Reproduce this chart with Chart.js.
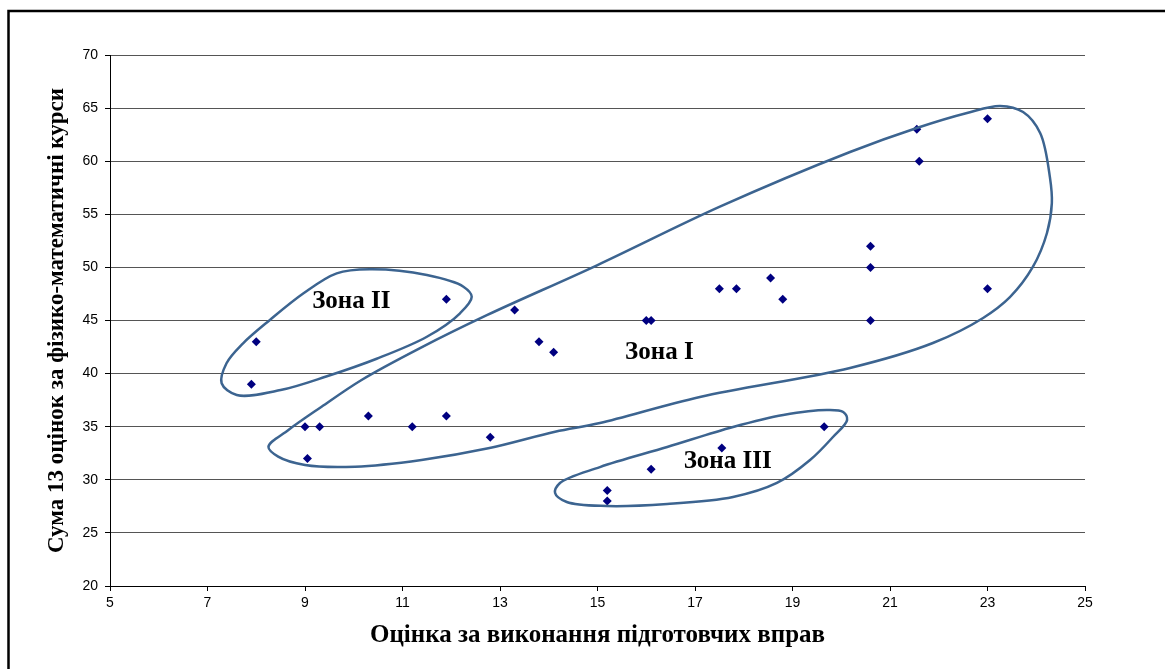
<!DOCTYPE html>
<html lang="uk">
<head>
<meta charset="UTF-8">
<title>Зони</title>
<script src="https://cdn.jsdelivr.net/npm/chart.js"></script>
<style>
    body { margin: 0; background: #fff; }
    canvas { display: block; }
</style>
</head>
<body>
<canvas id="myChart" width="1165" height="669"></canvas>
<script>
    // оцінка за підготовчі вправи
    const xValues = [7.9, 8.0, 9.0, 9.05, 9.3, 10.3, 11.2, 11.9, 11.9, 12.8, 13.3, 13.8, 14.1,
        15.2, 15.2, 16.0, 16.1, 16.1, 17.5, 17.55, 17.85, 18.55, 18.8, 19.65,
        20.6, 20.6, 20.6, 21.55, 21.6, 23.0, 23.0];
    // сума 13 оцінок
    const yValues = [39, 43, 35, 32, 35, 36, 35, 36, 47, 34, 46, 43, 42,
        29, 28, 45, 45, 31, 48, 33, 48, 49, 47, 35,
        45, 50, 52, 63, 60, 48, 64];

    const xTicks = [5, 7, 9, 11, 13, 15, 17, 19, 21, 23, 25];
    const yTicks = [20, 25, 30, 35, 40, 45, 50, 55, 60, 65, 70];

    // контури зон (в координатах даних)
    const zone1 = [[8.25, 33.1], [8.66, 34.69], [9.34, 36.88], [10.16, 39.4], [11.36, 42.4],
        [12.73, 45.5], [14.99, 50.2], [17.51, 55.72], [20.18, 60.87], [21.55, 63.13],
        [22.58, 64.54], [23.26, 65.2], [23.73, 64.63], [24.08, 62.66], [24.28, 58.5], [24.32, 56.06],
        [24.22, 53.24], [23.93, 50.04], [23.46, 47.2], [22.91, 45.24], [21.88, 42.88], [20.18, 40.53],
        [17.1, 37.8], [15.05, 35.35], [14.13, 34.53], [12.76, 32.97], [11.39, 31.87], [10.03, 31.24],
        [9.0, 31.4], [8.45, 32.18]];
    const zone2 = [[7.29, 39.09], [7.6, 37.98], [8.5, 38.45], [9.45, 39.75], [10.47, 41.4],
        [11.5, 43.47], [12.18, 45.68], [12.42, 47.24], [12.25, 48.18], [11.5, 49.28], [10.33, 49.82],
        [9.65, 49.44], [8.97, 47.56], [8.28, 45.05], [7.73, 42.85], [7.39, 40.97]];
    const zone3 = [[14.13, 28.76], [14.37, 27.91], [15.19, 27.53], [16.43, 27.72], [17.78, 28.38],
        [18.68, 29.7], [19.36, 31.86], [19.83, 34.03], [20.12, 35.63], [20.04, 36.38], [19.71, 36.57],
        [18.81, 36.1], [17.78, 34.97], [16.43, 33.09], [15.05, 31.2], [14.23, 29.7]];

    const zoneLabels = [
        { text: 'Зона II', x: 9.95, y: 46.8 },
        { text: 'Зона I', x: 16.27, y: 42.0 },
        { text: 'Зона III', x: 17.67, y: 31.7 }
    ];
    const zones = [zone1, zone2, zone3];

    const points = xValues.map((x, i) => ({ x: x, y: yValues[i] }));

    // центрипетальний Catmull-Rom, замкнений
    function closedCurve(ctx, pts) {
        const n = pts.length;
        const dist = (a, b) => Math.sqrt(Math.hypot(b[0] - a[0], b[1] - a[1])) || 1e-4;
        ctx.beginPath();
        ctx.moveTo(pts[0][0], pts[0][1]);
        for (let i = 0; i < n; i++) {
            const p0 = pts[(i - 1 + n) % n], p1 = pts[i], p2 = pts[(i + 1) % n], p3 = pts[(i + 2) % n];
            const d1 = dist(p0, p1), d2 = dist(p1, p2), d3 = dist(p2, p3);
            const c1 = [0, 1].map(k => (d1 * d1 * p2[k] - d2 * d2 * p0[k] + (2 * d1 * d1 + 3 * d1 * d2 + d2 * d2) * p1[k]) / (3 * d1 * (d1 + d2)));
            const c2 = [0, 1].map(k => (d3 * d3 * p1[k] - d2 * d2 * p3[k] + (2 * d3 * d3 + 3 * d3 * d2 + d2 * d2) * p2[k]) / (3 * d3 * (d3 + d2)));
            ctx.bezierCurveTo(c1[0], c1[1], c2[0], c2[1], p2[0], p2[1]);
        }
        ctx.closePath();
    }

    const framePlugin = {
        id: 'frame',
        beforeDraw(chart) {
            const ctx = chart.ctx;
            ctx.save();
            ctx.strokeStyle = '#000';
            ctx.lineWidth = 2.5;
            ctx.beginPath();
            ctx.moveTo(8.5, 669);
            ctx.lineTo(8.5, 11);
            ctx.lineTo(1165, 11);
            ctx.stroke();
            ctx.restore();
        }
    };

    const zonesPlugin = {
        id: 'zones',
        afterDatasetsDraw(chart) {
            const ctx = chart.ctx;
            const xs = chart.scales.x, ys = chart.scales.y;
            ctx.save();
            ctx.strokeStyle = '#3c6490';
            ctx.lineWidth = 2.5;
            zones.forEach(z => {
                const pts = z.map(p => [xs.getPixelForValue(p[0]), ys.getPixelForValue(p[1])]);
                closedCurve(ctx, pts);
                ctx.stroke();
            });
            ctx.fillStyle = '#000';
            ctx.font = 'bold 25px "Liberation Serif", "Times New Roman", serif';
            ctx.textAlign = 'center';
            ctx.textBaseline = 'middle';
            zoneLabels.forEach(l => {
                ctx.fillText(l.text, xs.getPixelForValue(l.x), ys.getPixelForValue(l.y));
            });
            ctx.restore();
        }
    };

    const ctx = document.getElementById('myChart').getContext('2d');
    const serif = '"Liberation Serif", "Times New Roman", serif';

    new Chart(ctx, {
        type: 'scatter',
        data: {
            datasets: [{
                label: 'Студенти',
                data: points,
                pointStyle: 'rectRot',
                pointRadius: 4.5,
                pointHoverRadius: 4.5,
                backgroundColor: '#000080',
                borderColor: '#000080',
                borderWidth: 0
            }]
        },
        options: {
            responsive: false,
            animation: false,
            layout: { padding: { left: 40, top: 55, right: 80, bottom: 20 } },
            plugins: {
                legend: { display: false },
                tooltip: { enabled: false }
            },
            scales: {
                x: {
                    type: 'linear',
                    min: 5,
                    max: 25,
                    afterFit(scale) { scale.height = 63; },
                    afterBuildTicks(scale) { scale.ticks = xTicks.map(v => ({ value: v })); },
                    border: { color: '#000', width: 1 },
                    grid: { drawOnChartArea: false, drawTicks: true, tickLength: 5, color: '#000' },
                    ticks: {
                        color: '#000',
                        padding: 4,
                        maxRotation: 0,
                        font: { family: '"Liberation Sans", Arial, sans-serif', size: 14 }
                    },
                    title: {
                        display: true,
                        text: 'Оцінка за виконання підготовчих вправ',
                        color: '#000',
                        font: { family: serif, size: 25, weight: 'bold' },
                        padding: { top: 0, bottom: -2 }
                    }
                },
                y: {
                    type: 'linear',
                    min: 20,
                    max: 70,
                    afterFit(scale) { scale.width = 70; },
                    afterBuildTicks(scale) { scale.ticks = yTicks.map(v => ({ value: v })); },
                    border: { color: '#000', width: 1 },
                    grid: { color: '#555', lineWidth: 1, tickLength: 5, tickColor: '#000' },
                    ticks: {
                        color: '#000',
                        padding: 7,
                        font: { family: '"Liberation Sans", Arial, sans-serif', size: 14 }
                    },
                    title: {
                        display: true,
                        text: 'Сума 13 оцінок за фізико-математичні курси',
                        color: '#000',
                        font: { family: serif, size: 23, weight: 'bold' },
                        padding: { top: 3, bottom: 0 }
                    }
                }
            }
        },
        plugins: [framePlugin, zonesPlugin]
    });
</script>
</body>
</html>
